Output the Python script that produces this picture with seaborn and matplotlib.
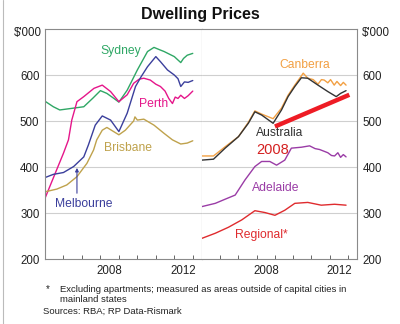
import matplotlib
matplotlib.use("Agg")
import matplotlib.pyplot as plt
import seaborn as sns
import pandas as pd

# ---------------- data (values in $'000, x in decimal years) ----------------
sydney_x = [2005.0, 2005.45, 2005.8, 2006.55, 2007.1, 2007.6, 2008.0, 2008.35, 2008.7, 2009.0,
            2009.45, 2010.0, 2010.55, 2010.9, 2011.2, 2011.45, 2011.75, 2012.0, 2012.35, 2012.5, 2012.7, 2013.0]
sydney_y = [543, 531, 524, 528, 531, 550, 566, 560, 550, 541,
            567, 611, 651, 660, 655, 651, 645, 640, 627, 636, 643, 647]

perth_x = [2005.0, 2005.55, 2006.0, 2006.27, 2006.45, 2006.73, 2007.1, 2007.65, 2008.1, 2008.55, 2009.0,
           2009.45, 2009.8, 2010.1, 2010.35, 2010.7, 2011.0, 2011.25, 2011.5, 2011.7, 2011.9,
           2012.05, 2012.2, 2012.35, 2012.55, 2012.75, 2013.0]
perth_y = [332, 386, 430, 459, 502, 542, 553, 571, 578, 564, 542,
           557, 582, 591, 593, 589, 580, 575, 565, 549, 538,
           552, 549, 556, 549, 555, 565]

melbourne_x = [2005.0, 2005.45, 2006.0, 2006.55, 2007.1, 2007.35, 2007.72, 2008.1, 2008.55, 2009.0,
               2009.45, 2009.9, 2010.2, 2010.55, 2011.0, 2011.25, 2011.63, 2012.0, 2012.2, 2012.35,
               2012.55, 2012.75, 2013.0]
melbourne_y = [377, 384, 388, 401, 422, 448, 491, 511, 502, 477,
               517, 575, 596, 618, 640, 629, 611, 600, 592, 575,
               585, 584, 588]

brisbane_x = [2005.0, 2005.64, 2006.18, 2006.73, 2007.27, 2007.63, 2007.8, 2008.1, 2008.35, 2009.0,
              2009.35, 2009.8, 2009.87, 2010.0, 2010.35, 2010.9, 2011.45, 2011.9, 2012.35, 2012.7, 2013.0]
brisbane_y = [346, 352, 361, 379, 408, 437, 459, 480, 486, 470,
              480, 500, 509, 502, 504, 491, 473, 459, 450, 452, 457]

canberra_x = [2005.0, 2005.63, 2006.27, 2007.0, 2007.54, 2007.9, 2008.27, 2008.9, 2009.36, 2009.72,
              2010.09, 2010.45, 2010.55, 2010.8, 2011.1, 2011.36, 2011.55, 2011.7, 2011.9, 2012.05,
              2012.25, 2012.4, 2012.6, 2012.75, 2012.9]
canberra_y = [424, 424, 444, 466, 497, 522, 515, 505, 528, 556,
              578, 598, 604, 593, 590, 580, 590, 589, 583, 590,
              578, 586, 577, 584, 578]

australia_x = [2005.0, 2005.63, 2006.27, 2007.0, 2007.54, 2007.9, 2008.27, 2008.9, 2009.36, 2009.72,
               2010.09, 2010.45, 2010.8, 2011.36, 2011.9, 2012.36, 2012.6, 2012.9]
australia_y = [415, 417, 441, 466, 495, 520, 513, 495, 524, 553,
               575, 594, 593, 578, 564, 553, 560, 566]

adelaide_x = [2005.0, 2005.73, 2006.27, 2006.82, 2007.36, 2007.9, 2008.27, 2008.72, 2009.09, 2009.54,
              2009.9, 2010.45, 2010.9, 2011.2, 2011.45, 2011.9, 2012.1, 2012.27, 2012.45, 2012.6, 2012.75, 2012.9]
adelaide_y = [314, 321, 330, 339, 372, 401, 412, 412, 404, 415,
              441, 443, 446, 440, 438, 431, 425, 424, 431, 421, 427, 422]

regional_x = [2005.0, 2005.73, 2006.45, 2007.18, 2007.9, 2008.45, 2009.0, 2009.54, 2010.09, 2010.8,
              2011.54, 2012.27, 2012.9]
regional_y = [245, 256, 269, 285, 305, 301, 295, 306, 321, 323,
              317, 319, 317]

trend_x = [2009.0, 2013.08]
trend_y = [488, 557]

year_ticks = [2006, 2007, 2008, 2009, 2010, 2011, 2012, 2013]
year_label_pos = [2008.5, 2012.5]
year_labels = ["2008", "2012"]
y_ticks = [200, 300, 400, 500, 600]
y_grid = [300, 400, 500, 600]


def frame(name, xs, ys):
    return pd.DataFrame({"year": xs, "value": ys, "series": name})


left_df = pd.concat([
    frame("Sydney", sydney_x, sydney_y),
    frame("Perth", perth_x, perth_y),
    frame("Melbourne", melbourne_x, melbourne_y),
    frame("Brisbane", brisbane_x, brisbane_y),
], ignore_index=True)

right_df = pd.concat([
    frame("Canberra", canberra_x, canberra_y),
    frame("Australia", australia_x, australia_y),
    frame("Adelaide", adelaide_x, adelaide_y),
    frame("Regional", regional_x, regional_y),
], ignore_index=True)

colors = {
    "Sydney": "#2fa765",
    "Perth": "#e5168a",
    "Melbourne": "#3b3f9c",
    "Brisbane": "#bfa24c",
    "Canberra": "#f2a043",
    "Australia": "#333333",
    "Adelaide": "#9a3ca6",
    "Regional": "#df2b2e",
}

sns.set_style("white")
plt.rcParams["font.family"] = ["Liberation Sans", "DejaVu Sans"]

fig = plt.figure(figsize=(4.0, 3.24), dpi=100)
axL = fig.add_axes([45 / 400, 1 - 259 / 324, 157 / 400, 230 / 324])
axR = fig.add_axes([202 / 400, 1 - 259 / 324, 155 / 400, 230 / 324])

for ax, df in ((axL, left_df), (axR, right_df)):
    for yv in y_grid:
        ax.axhline(yv, color="#cfcfcf", lw=0.8, zorder=0)
    sns.lineplot(data=df, x="year", y="value", hue="series", palette=colors,
                 ax=ax, legend=False, linewidth=1.0, sort=False, estimator=None,
                 units="series")
    ax.set_xlim(2005.0, 2013.5)
    ax.set_ylim(200, 700)
    ax.set_xlabel("")
    ax.set_ylabel("")
    ax.set_xticks(year_ticks)
    ax.set_xticklabels([])
    ax.set_xticks(year_label_pos, minor=True)
    ax.set_xticklabels(year_labels, minor=True, fontsize=8.3, color="#222222")
    ax.tick_params(axis="x", which="major", direction="in", length=3, width=0.7,
                   color="#666666", bottom=True, top=False)
    ax.tick_params(axis="x", which="minor", length=0, pad=4)
    ax.set_yticks(y_ticks)
    ax.set_yticklabels([str(v) for v in y_ticks], fontsize=8.3, color="#222222")
    ax.tick_params(axis="y", length=0, pad=4)
    for s in ax.spines.values():
        s.set_visible(True)
        s.set_color("#8a8a8a")
        s.set_linewidth(0.8)

axR.yaxis.tick_right()
axR.spines["left"].set_visible(False)
axR.tick_params(axis="y", left=False, labelleft=False, right=False, labelright=True, pad=4)

# thick red trend annotation
sns.lineplot(x=trend_x, y=trend_y, ax=axR, color="#ee1c25", linewidth=3.2,
             solid_capstyle="butt", legend=False)
axR.set_xlabel("")
axR.set_ylabel("")

# series labels
fs = 8.7
axL.text(2009.1, 652, "Sydney", color=colors["Sydney"], fontsize=fs, ha="center", va="center")
axL.text(2010.9, 537, "Perth", color=colors["Perth"], fontsize=fs, ha="center", va="center")
axL.text(2009.5, 442, "Brisbane", color=colors["Brisbane"], fontsize=fs, ha="center", va="center")
axL.text(2007.1, 320, "Melbourne", color=colors["Melbourne"], fontsize=fs, ha="center", va="center")
axL.annotate("", xy=(2006.73, 398), xytext=(2006.73, 343),
             arrowprops=dict(arrowstyle="-|>", color=colors["Melbourne"], lw=0.8,
                             mutation_scale=5, shrinkA=0, shrinkB=0))
axR.text(2010.63, 621, "Canberra", color=colors["Canberra"], fontsize=fs, ha="center", va="center")
axR.text(2009.27, 475, "Australia", color=colors["Australia"], fontsize=fs, ha="center", va="center")
axR.text(2008.85, 437, "2008", color="#d42020", fontsize=10.5, ha="center", va="center")
axR.text(2009.04, 354, "Adelaide", color=colors["Adelaide"], fontsize=fs, ha="center", va="center")
axR.text(2008.26, 253, "Regional*", color=colors["Regional"], fontsize=fs, ha="center", va="center")

# title and units
fig.text(0.5, 1 - 15 / 324, "Dwelling Prices", ha="center", va="center",
         fontsize=11.5, fontweight="bold", color="#111111")
fig.text(28 / 400, 1 - 33 / 324, "$'000", ha="center", va="center", fontsize=8.3, color="#222222")
fig.text(376 / 400, 1 - 33 / 324, "$'000", ha="center", va="center", fontsize=8.3, color="#222222")

# footnotes
fig.text(46 / 400, 1 - 289 / 324, "*", ha="left", va="center", fontsize=7, color="#222222")
fig.text(60 / 400, 1 - 289 / 324,
         "Excluding apartments; measured as areas outside of capital cities in",
         ha="left", va="center", fontsize=6.8, color="#222222")
fig.text(60 / 400, 1 - 300 / 324, "mainland states", ha="left", va="center",
         fontsize=6.8, color="#222222")
fig.text(43 / 400, 1 - 311 / 324, "Sources: RBA; RP Data-Rismark", ha="left", va="center",
         fontsize=6.8, color="#222222")

# faint outer border on the left
fig.add_artist(plt.Line2D([3 / 400, 3 / 400], [0, 1], transform=fig.transFigure,
                          color="#bbbbbb", lw=0.8))

fig.savefig("out.png", dpi=100)
